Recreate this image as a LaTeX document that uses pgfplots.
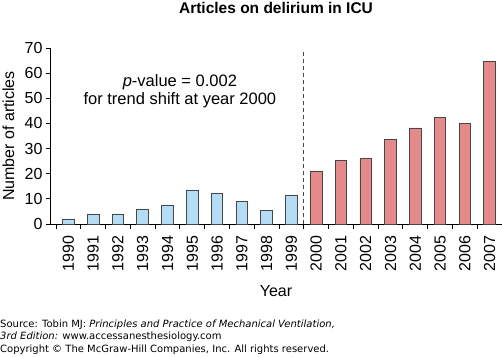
\documentclass[border=0pt]{standalone}
\usepackage{fontspec}
\setmainfont{Liberation Sans}
\newfontfamily\dejavu{DejaVu Sans}
\usepackage{pgfplots}
\pgfplotsset{compat=1.18}
\definecolor{barblue}{RGB}{181,220,245}
\definecolor{barred}{RGB}{229,138,138}
\definecolor{edgec}{RGB}{70,70,70}
\begin{document}
\begin{tikzpicture}[x=1pt,y=1pt]
\path[use as bounding box] (0,0) rectangle (502,356);
\begin{axis}[
  at={(50pt,132pt)}, anchor=south west,
  scale only axis, width=452pt, height=176pt,
  xmin=-0.742, xmax=17.5, ymin=0, ymax=70,
  axis x line=bottom, axis y line=left,
  axis line style={-, line width=0.8pt},
  /pgf/number format/assume math mode=true,
  tick align=outside,
  ytick={0,10,...,70},
  major tick length=4pt,
  minor tick length=5pt,
  tick style={line width=0.8pt, black},
  xtick={0,...,17},
  xticklabels={1990,1991,1992,1993,1994,1995,1996,1997,1998,1999,2000,2001,2002,2003,2004,2005,2006,2007},
  major x tick style={draw=none},
  minor xtick={-0.5,0.5,...,17.5},
  xticklabel style={rotate=90, anchor=east, xshift=-4pt, font=\fontsize{16}{16}\selectfont},
  yticklabel style={font=\fontsize{16}{16}\selectfont},
  xlabel={Year},
  xlabel style={at={(rel axis cs:0.5,0)}, anchor=center, yshift=-67.5pt, font=\fontsize{16}{16}\selectfont},
  ylabel={Number of articles},
  ylabel style={at={(rel axis cs:0,0.5)}, anchor=center, yshift=41.5pt, font=\fontsize{16}{16}\selectfont},
  title={Articles on delirium in ICU},
  title style={at={(rel axis cs:0.5,1)}, anchor=center, yshift=34pt, font=\bfseries\fontsize{15.5}{15.5}\selectfont},
  ybar, bar width=0.47, bar shift=0,
  clip=false,
]
\addplot[fill=barblue, draw=edgec, line width=0.8pt] coordinates {
(0,2)(1,4)(2,4)(3,6)(4,7.5)(5,13.3)(6,12)(7,9)(8,5.3)(9,11.2)};
\addplot[fill=barred, draw=edgec, line width=0.8pt] coordinates {
(10,21.1)(11,25.2)(12,25.9)(13,33.5)(14,38.2)(15,42.4)(16,40.1)(17,64.7)};
\addplot[sharp plot, draw=edgec, line width=0.7pt, dash pattern=on 4pt off 3pt, forget plot] coordinates {(9.5,0)(9.5,68.5)};
\node[align=center, font=\fontsize{16.5}{18}\selectfont] at (axis cs:4.5,52.9) {\textit{p}-value = 0.002\\for trend shift at year 2000};
\end{axis}
\node[anchor=base west, inner sep=0, font=\dejavu\fontsize{10}{10}\selectfont] at (0,28.3) {Source: Tobin MJ: \textit{Principles and Practice of Mechanical Ventilation,}};
\node[anchor=base west, inner sep=0, font=\dejavu\fontsize{10}{10}\selectfont] at (0,16.7) {\textit{3rd Edition:} www.accessanesthesiology.com};
\node[anchor=base west, inner sep=0, font=\dejavu\fontsize{10}{10}\selectfont] at (0,3.3) {Copyright \textcopyright{} The McGraw-Hill Companies, Inc. All rights reserved.};
\end{tikzpicture}
\end{document}
